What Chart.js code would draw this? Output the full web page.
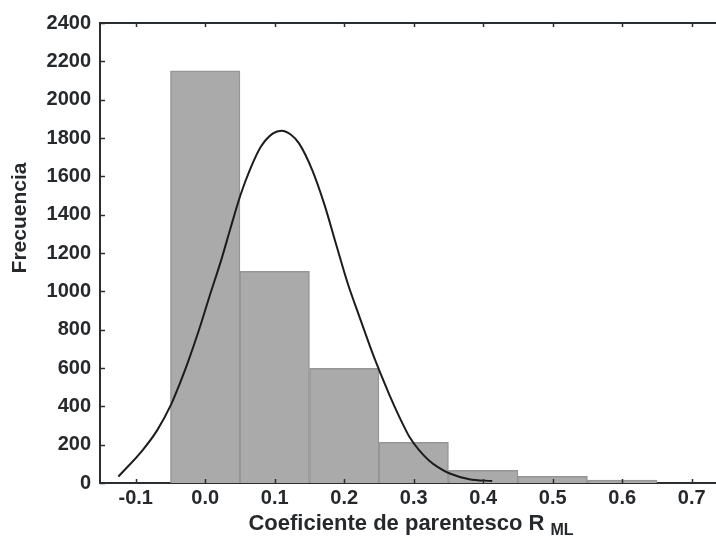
<!DOCTYPE html>
<html>
<head>
<meta charset="utf-8">
<script src="https://cdn.jsdelivr.net/npm/chart.js@4/dist/chart.umd.min.js"></script>
<style>
  body { margin: 0; background: #fff; }
</style>
</head>
<body>
<canvas id="histChart" width="716" height="536"></canvas>
<script>
// histogram bins (centre of each 0.1-wide class) and counts
const binCenters = [0.0, 0.1, 0.2, 0.3, 0.4, 0.5, 0.6];
const counts = [2150, 1105, 598, 212, 66, 35, 15];

// fitted curve
const curveX = [-0.125, -0.09, -0.069, -0.049, -0.037, -0.0255, -0.009, 0.006, 0.023, 0.037,
  0.051, 0.065, 0.080, 0.097, 0.110, 0.123, 0.135, 0.154, 0.171, 0.188, 0.205, 0.222, 0.241,
  0.253, 0.265, 0.280, 0.294, 0.308, 0.322, 0.336, 0.351, 0.380, 0.413];
const curveY = [33, 172, 276, 410, 515, 624, 798, 972, 1163, 1337,
  1505, 1640, 1754, 1823, 1838, 1818, 1772, 1633, 1459, 1250, 1042, 867, 675,
  565, 460, 340, 240, 170, 118, 80, 51, 20, 10];

const xTicks = [-0.1, 0.0, 0.1, 0.2, 0.3, 0.4, 0.5, 0.6, 0.7];
const yTicks = [0, 200, 400, 600, 800, 1000, 1200, 1400, 1600, 1800, 2000, 2200, 2400];

const textColor = "#26292c";
const axisColor = "#2b2e31";
const fontFamily = "'Liberation Sans', Arial, sans-serif";

Chart.defaults.font.family = fontFamily;
Chart.defaults.color = textColor;

// top frame line, inward tick marks and the two axis titles
const frame = {
  id: "frame",
  afterDraw(chart) {
    const ctx = chart.ctx;
    const a = chart.chartArea;
    const x = chart.scales.x;
    const y = chart.scales.y;
    ctx.save();
    ctx.strokeStyle = axisColor;
    ctx.lineWidth = 2;
    ctx.beginPath();
    ctx.moveTo(a.left - 1, a.top);
    ctx.lineTo(a.right, a.top);
    ctx.stroke();

    ctx.lineWidth = 1.5;
    ctx.beginPath();
    xTicks.forEach(v => {
      const px = Math.round(x.getPixelForValue(v)) + 0.5;
      ctx.moveTo(px, a.bottom);
      ctx.lineTo(px, a.bottom - 4);
      ctx.moveTo(px, a.top);
      ctx.lineTo(px, a.top + 4);
    });
    yTicks.forEach(v => {
      const py = Math.round(y.getPixelForValue(v)) + 0.5;
      ctx.moveTo(a.left, py);
      ctx.lineTo(a.left + 5, py);
    });
    ctx.stroke();

    // y title
    ctx.fillStyle = textColor;
    ctx.save();
    ctx.translate(20, 218);
    ctx.rotate(-Math.PI / 2);
    ctx.font = "bold 21px " + fontFamily;
    ctx.textAlign = "center";
    ctx.textBaseline = "middle";
    ctx.fillText("Frecuencia", 0, 0);
    ctx.restore();

    // x title with subscript
    const main = "Coeficiente de parentesco R ";
    const sub = "ML";
    ctx.font = "bold 22px " + fontFamily;
    const w1 = ctx.measureText(main).width;
    ctx.font = "bold 16px " + fontFamily;
    const w2 = ctx.measureText(sub).width;
    const start = 411 - (w1 + w2) / 2;
    ctx.textAlign = "left";
    ctx.textBaseline = "alphabetic";
    ctx.font = "bold 22px " + fontFamily;
    ctx.fillText(main, start, 530);
    ctx.font = "bold 16px " + fontFamily;
    ctx.fillText(sub, start + w1, 535);
    ctx.restore();
  }
};

new Chart(document.getElementById("histChart"), {
  type: "bar",
  data: {
    datasets: [
      {
        type: "line",
        data: curveX.map((v, i) => ({ x: v, y: curveY[i] })),
        borderColor: "#1c1c1c",
        borderWidth: 2,
        pointRadius: 0,
        fill: false,
        cubicInterpolationMode: "monotone",
        order: 0
      },
      {
        data: binCenters.map((v, i) => ({ x: v, y: counts[i] })),
        backgroundColor: "#aaaaaa",
        borderColor: "#969696",
        borderWidth: 1.5,
        barPercentage: 1,
        categoryPercentage: 1,
        order: 1
      }
    ]
  },
  options: {
    responsive: false,
    animation: false,
    devicePixelRatio: 1,
    layout: { padding: { top: 23, right: 0, left: 0, bottom: 0 } },
    plugins: {
      legend: { display: false },
      tooltip: { enabled: false }
    },
    scales: {
      x: {
        type: "linear",
        offset: false,
        min: -0.1514,
        max: 0.735,
        grid: { display: false, drawTicks: false, offset: false },
        border: { display: true, color: axisColor, width: 2 },
        ticks: {
          padding: 3,
          font: { size: 20, weight: "bold" },
          color: textColor,
          callback: v => v.toFixed(1)
        },
        afterBuildTicks: scale => {
          scale.ticks = xTicks.map(v => ({ value: v }));
        },
        afterFit: scale => {
          scale.height = 53;
        }
      },
      y: {
        min: 0,
        max: 2400,
        grid: { display: false, drawTicks: false },
        border: { display: true, color: axisColor, width: 2 },
        ticks: {
          padding: 9,
          font: { size: 20, weight: "bold" },
          color: textColor,
          callback: v => String(v)
        },
        afterBuildTicks: scale => {
          scale.ticks = yTicks.map(v => ({ value: v }));
        },
        afterFit: scale => {
          scale.width = 100;
        }
      }
    }
  },
  plugins: [frame]
});
</script>
</body>
</html>
